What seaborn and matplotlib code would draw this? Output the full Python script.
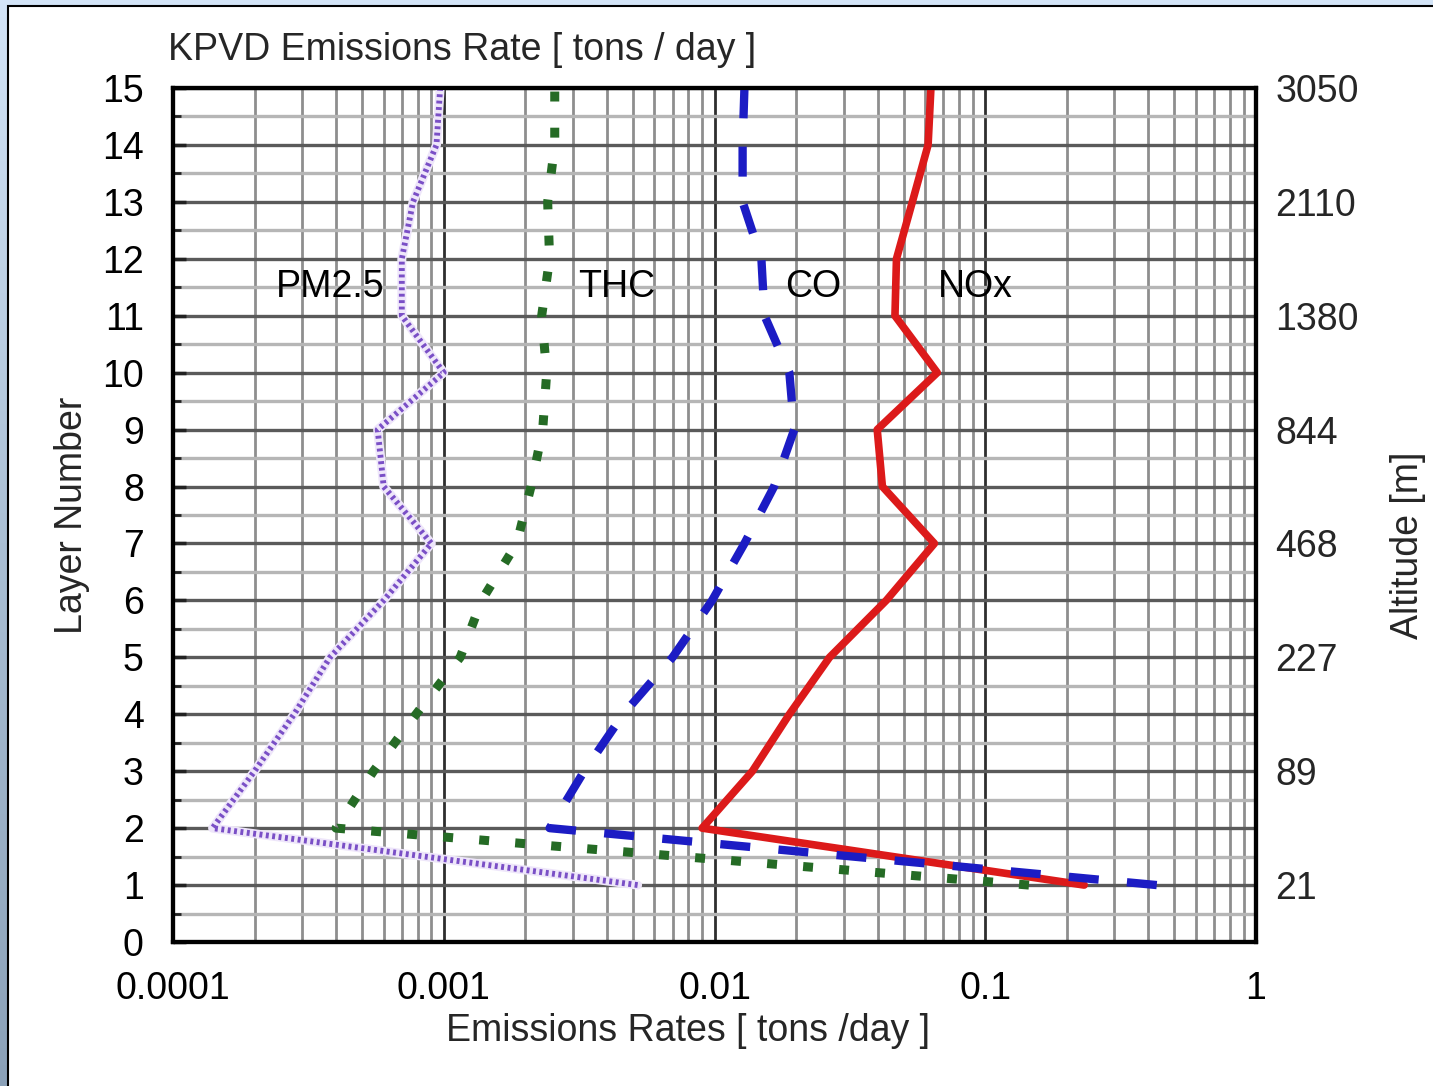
import numpy as np
import pandas as pd
import matplotlib
matplotlib.use("Agg")
import matplotlib.pyplot as plt
import seaborn as sns
from matplotlib.ticker import LogLocator, NullFormatter, MultipleLocator
from matplotlib.patches import Rectangle
from matplotlib.colors import LinearSegmentedColormap

# Emission rate profiles by model layer [tons/day]
layers = list(range(1, 16))
pm25 = [0.0052, 0.00014, 0.00020, 0.00028, 0.00038, 0.00060, 0.00090, 0.00060,
        0.00057, 0.00100, 0.00070, 0.00070, 0.00077, 0.00094, 0.00097]
thc = [0.145, 0.00040, 0.00055, 0.00079, 0.00115, 0.00138, 0.00186, 0.00210,
       0.00232, 0.00240, 0.00230, 0.00246, 0.00242, 0.00257, 0.00257]
co = [0.43, 0.00246, 0.0033, 0.0046, 0.0070, 0.0098, 0.0129, 0.0166,
      0.0197, 0.0189, 0.0153, 0.0149, 0.0127, 0.0127, 0.0129]
nox = [0.232, 0.0090, 0.0138, 0.0189, 0.0266, 0.0431, 0.0649, 0.0417,
       0.0399, 0.0665, 0.0464, 0.0470, 0.0538, 0.0615, 0.0630]

# Layer-top altitudes shown on the right axis
altitude_layers = [1, 3, 5, 7, 9, 11, 13, 15]
altitude_labels = ["21", "89", "227", "468", "844", "1380", "2110", "3050"]

x_ticks = [1e-4, 1e-3, 1e-2, 1e-1, 1]
x_tick_labels = ["0.0001", "0.001", "0.01", "0.1", "1"]

species = ["PM2.5", "THC", "CO", "NOx"]
species_label_x = [3.8e-4, 4.35e-3, 0.0232, 0.092]
species_label_layer = 11.5

sns.set_style("white")
plt.rcParams["font.family"] = ["Liberation Sans", "DejaVu Sans"]
FS = 27

fig = plt.figure(figsize=(14.33, 10.86), dpi=100)

# slide backdrop with a white panel
bg = fig.add_axes([0, 0, 1, 1], zorder=-10)
grad = np.linspace(0, 1, 256)[:, None]
cmap = LinearSegmentedColormap.from_list("slide", ["#d3e4f7", "#aabfd4", "#8ba1b8"])
bg.imshow(grad, aspect="auto", cmap=cmap, extent=[0, 1, 0, 1], origin="upper")
bg.add_patch(Rectangle((8 / 1433, -0.01), 1.0, (1086 - 6) / 1086 + 0.01,
                       facecolor="white", edgecolor="black", lw=1.5,
                       transform=bg.transAxes))
bg.set_xlim(0, 1)
bg.set_ylim(0, 1)
bg.set_axis_off()

ax = fig.add_axes([173 / 1433, 144 / 1086, 1083 / 1433, 854 / 1086])
ax.set_facecolor("white")
ax.set_xscale("log")

df = pd.DataFrame({"layer": layers, "PM2.5": pm25, "THC": thc, "CO": co, "NOx": nox})

sns.lineplot(data=df, x="NOx", y="layer", sort=False, estimator=None, orient="y",
             color="#dc1a1a", lw=5.5, ax=ax, zorder=3)
sns.lineplot(data=df, x="CO", y="layer", sort=False, estimator=None, orient="y",
             color="#1c1cc4", lw=6, linestyle=(0, (3.6, 3.4)),
             dash_capstyle="butt", ax=ax, zorder=4)
sns.lineplot(data=df, x="THC", y="layer", sort=False, estimator=None, orient="y",
             color="#256b25", lw=6.5, linestyle=(0, (1.1, 2.9)),
             dash_capstyle="butt", ax=ax, zorder=5)
sns.lineplot(data=df, x="PM2.5", y="layer", sort=False, estimator=None, orient="y",
             color="#eee6fa", lw=6.5, ax=ax, zorder=5.5)
sns.lineplot(data=df, x="PM2.5", y="layer", sort=False, estimator=None, orient="y",
             color="#7a4fc6", lw=4.2, linestyle=(0, (0.5, 0.6)),
             dash_capstyle="butt", ax=ax, zorder=6)

ax.set_xlim(1e-4, 1)
ax.set_ylim(0, 15)

ax.set_xticks(x_ticks, x_tick_labels)
ax.xaxis.set_minor_locator(LogLocator(base=10, subs=np.arange(2, 10), numticks=20))
ax.xaxis.set_minor_formatter(NullFormatter())
ax.set_yticks(list(range(0, 16)))
ax.yaxis.set_minor_locator(MultipleLocator(0.5))

ax.set_axisbelow(True)
ax.xaxis.grid(True, which="major", color="#2e2e2e", lw=2)
ax.xaxis.grid(True, which="minor", color="#8e8e8e", lw=2)
ax.yaxis.grid(True, which="major", color="#5a5a5a", lw=2.4)
ax.yaxis.grid(True, which="minor", color="#b6b6b6", lw=2.4)

for s in ax.spines.values():
    s.set_linewidth(3)
    s.set_color("black")
    s.set_visible(True)

ax.tick_params(axis="both", which="both", direction="in", colors="#222222",
               labelcolor="black")
ax.tick_params(axis="y", which="major", length=9, width=2.5, pad=21, labelsize=FS)
ax.tick_params(axis="y", which="minor", length=6, width=2)
ax.tick_params(axis="x", which="major", length=0, pad=21, labelsize=FS)
ax.tick_params(axis="x", which="minor", length=0)

ax.set_xlabel("Emissions Rates [ tons /day ]", fontsize=FS)
ax.xaxis.set_label_coords(0.4755, -0.083)
ax.set_ylabel("Layer Number", fontsize=FS)
ax.yaxis.set_label_coords(-0.0766, 0.5)
ax.set_title("KPVD Emissions Rate [ tons / day ]", loc="left", fontsize=FS,
             pad=20, x=-0.005)

for name, xv in zip(species, species_label_x):
    ax.text(xv, species_label_layer, name, ha="center", va="center",
            fontsize=FS, color="black", zorder=7)

ax2 = ax.twinx()
ax2.set_ylim(0, 15)
ax2.set_yticks(altitude_layers, altitude_labels)
ax2.grid(False)
ax2.tick_params(axis="y", length=0, pad=14, labelsize=FS)
for s in ax2.spines.values():
    s.set_linewidth(3)
    s.set_color("black")
ax2.set_ylabel("Altitude [m]", fontsize=FS)
ax2.yaxis.set_label_coords(1.1237, 0.465)

fig.savefig("out.png", dpi=100)
